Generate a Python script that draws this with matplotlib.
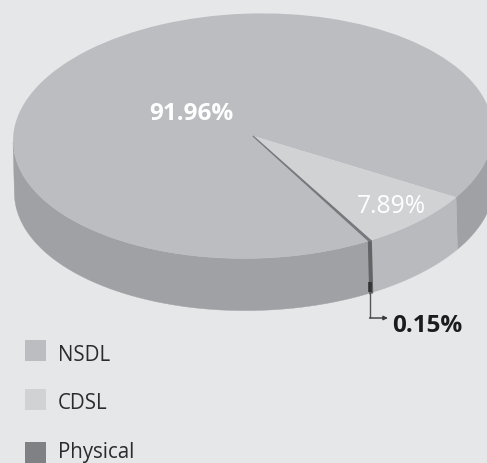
import numpy as np
import matplotlib
matplotlib.use("Agg")
import matplotlib.pyplot as plt
from matplotlib.patches import Rectangle
from matplotlib.transforms import Affine2D

categories = ["NSDL", "CDSL", "Physical"]
values = [91.96, 7.89, 0.15]
value_labels = ["91.96%", "7.89%", "0.15%"]
top_colors = ["#bcbdc0", "#d1d2d4", "#77787b"]
wall_colors = ["#a0a1a4", "#b9babd", "#636466"]
legend_colors = ["#bcbdc0", "#d1d2d4", "#808184"]

W, H = 487, 464
BG = "#e6e7e9"
cx, cy, rx, ry = 253, 137, 240, 122.5
depth = 52 / ry
start = -61.9
tilt = 1.5

plt.rcParams["font.family"] = ["Open Sans", "DejaVu Sans"]
fig = plt.figure(figsize=(W / 100, H / 100), dpi=100, facecolor=BG)

ax = fig.add_axes([0, 0, 1, 1])
ax.set_facecolor(BG)
wedges, _ = ax.pie(values, colors=top_colors, startangle=start, counterclock=False,
                   radius=1, center=(0, 0), wedgeprops={"linewidth": 0, "zorder": 5},
                   frame=True)
ax.set_aspect("auto")
ax.set_xlim((0 - cx) / rx, (W - cx) / rx)
ax.set_ylim((cy - H) / ry, cy / ry)
ax.axis("off")

tilted = ax.transData + Affine2D().rotate_deg_around(cx, H - cy, tilt)
for w in wedges:
    w.set_transform(tilted)
wedges[2].set_edgecolor(top_colors[2])
wedges[2].set_linewidth(0.9)

# walls computed from the values
ang = start
for v, col in zip(values, wall_colors):
    a1, a0 = ang, ang - v * 3.6
    ang = a0
    for k in (0, -360):
        lo = max(a0, -180 + k)
        hi = min(a1, 0 + k)
        if hi > lo:
            t = np.radians(np.linspace(lo, hi, 200))
            xs = np.cos(t)
            ys = np.sin(t)
            ax.fill(np.r_[xs, xs[::-1]], np.r_[ys, ys[::-1] - depth],
                    facecolor=col, edgecolor=col,
                    lw=1.5 if col == wall_colors[2] else 0.3,
                    zorder=3 if col == wall_colors[2] else 2, transform=tilted)

px = fig.add_axes([0, 0, 1, 1], facecolor="none")
px.set_xlim(0, W)
px.set_ylim(H, 0)
px.axis("off")

px.text(191.5, 114, value_labels[0], color="white", fontsize=17.5, fontweight="bold",
        ha="center", va="center")
px.text(391, 207, value_labels[1], color="white", fontsize=17.7, fontweight="normal",
        ha="center", va="center")
px.text(427, 326, value_labels[2], color="#1c1c1e", fontsize=17.5, fontweight="bold",
        ha="center", va="center")

px.annotate("", xy=(388, 319), xytext=(369.5, 319),
            arrowprops=dict(arrowstyle="-|>,head_width=0.12,head_length=0.25",
                            color="#3a3a3c", lw=1, shrinkA=0, shrinkB=0))
px.plot([369.5, 369.5], [283, 293], color="#333335", lw=2.6, solid_capstyle="butt", zorder=6)
px.plot([369.5, 369.5], [293, 319], color="#555557", lw=1, solid_capstyle="butt")

legend_y = [351.5, 400.5, 453.5]
legend_base = [360.7, 409.3, 458.5]
for name, col, y, b in zip(categories, legend_colors, legend_y, legend_base):
    px.add_patch(Rectangle((25, y - 10.5), 21, 21, facecolor=col, edgecolor="none"))
    px.text(58, b, name, color="#2b2b2d", fontsize=14.8, ha="left", va="baseline")

fig.savefig("out.png", dpi=100, facecolor=BG)
